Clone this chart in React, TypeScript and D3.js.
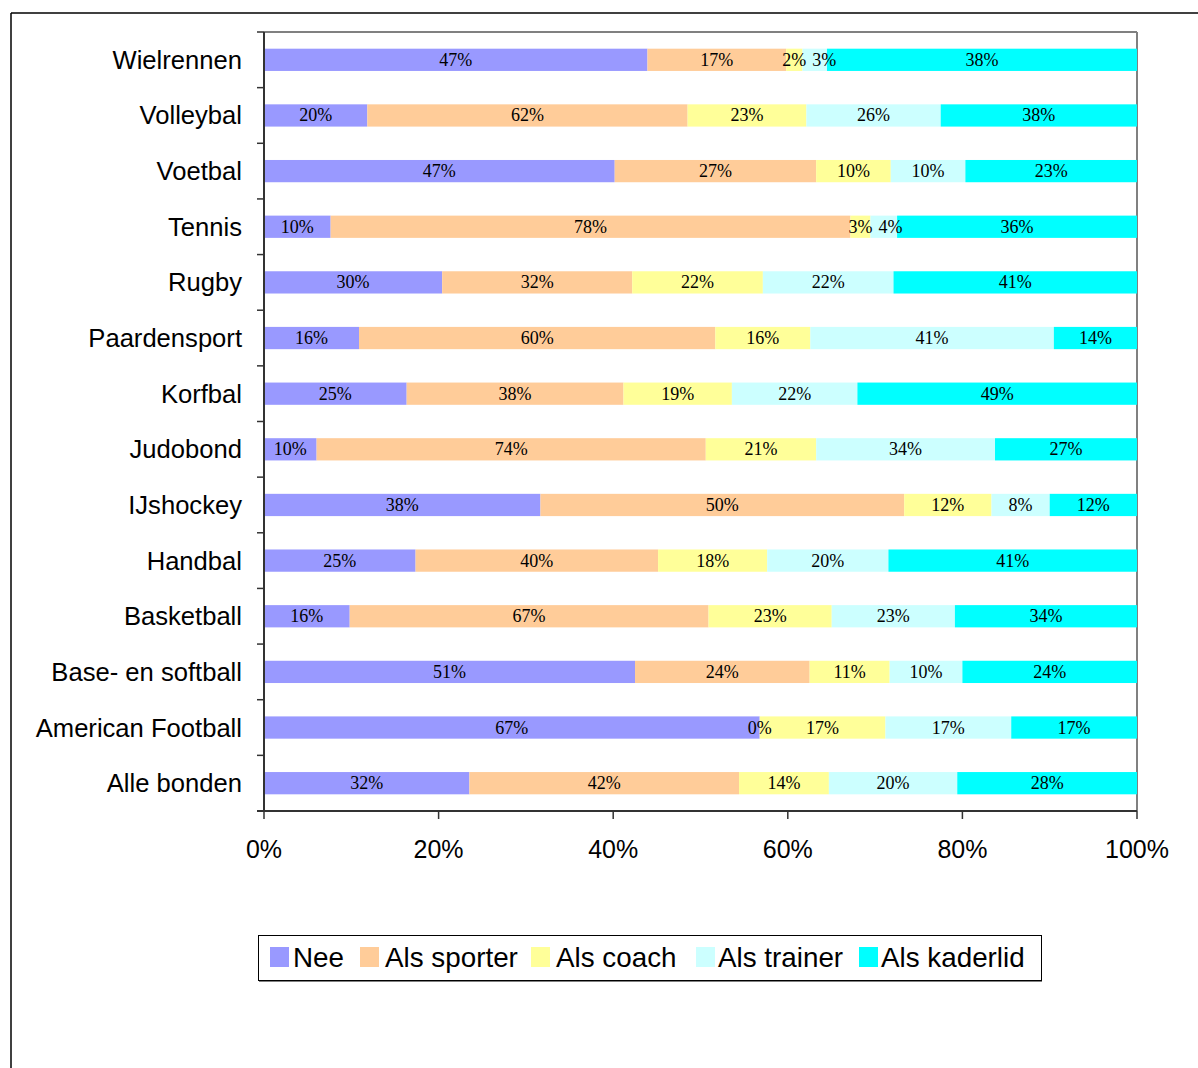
import * as d3 from 'd3';

const categories = [
  'Wielrennen',
  'Volleybal',
  'Voetbal',
  'Tennis',
  'Rugby',
  'Paardensport',
  'Korfbal',
  'Judobond',
  'IJshockey',
  'Handbal',
  'Basketball',
  'Base- en softball',
  'American Football',
  'Alle bonden',
];

const seriesNames = ['Nee', 'Als sporter', 'Als coach', 'Als trainer', 'Als kaderlid'];
const seriesColors = ['#9999FF', '#FFCC99', '#FFFF99', '#CCFFFF', '#00FFFF'];

const nee = [47, 20, 47, 10, 30, 16, 25, 10, 38, 25, 16, 51, 67, 32];
const alsSporter = [17, 62, 27, 78, 32, 60, 38, 74, 50, 40, 67, 24, 0, 42];
const alsCoach = [2, 23, 10, 3, 22, 16, 19, 21, 12, 18, 23, 11, 17, 14];
const alsTrainer = [3, 26, 10, 4, 22, 41, 22, 34, 8, 20, 23, 10, 17, 20];
const alsKaderlid = [38, 38, 23, 36, 41, 14, 49, 27, 12, 41, 34, 24, 17, 28];

const xTicks = [0, 0.2, 0.4, 0.6, 0.8, 1];

const seriesValues = [nee, alsSporter, alsCoach, alsTrainer, alsKaderlid];

export default function App() {
  const width = 1198;
  const height = 1068;
  const plot = { left: 264, right: 1137, top: 32, bottom: 811 };
  const labelSize = 18;

  const rows = categories.map((c, i) => {
    const row: any = { cat: c };
    seriesNames.forEach((s, j) => (row[s] = seriesValues[j][i]));
    return row;
  });

  const stacked = d3.stack().keys(seriesNames).offset(d3.stackOffsetExpand)(rows);

  const x = d3.scaleLinear().domain([0, 1]).range([plot.left, plot.right]);
  const y = d3
    .scaleBand()
    .domain(categories)
    .range([plot.top, plot.bottom])
    .paddingInner(0.6)
    .paddingOuter(0.3);

  const step = y.step();
  const boundaries = d3.range(categories.length + 1).map((i) => plot.top + i * step);

  // label positions, pushed right when they would overlap the previous one
  const labelX = categories.map((c, i) => {
    let prevRight = -Infinity;
    return stacked.map((layer, si) => {
      const d: any = layer[i];
      const digits = String(seriesValues[si][i]).length;
      const w = (digits * 0.5 + 0.833) * labelSize;
      let cx = (x(d[0]) + x(d[1])) / 2;
      if (cx - w / 2 < prevRight + 6) cx = prevRight + 6 + w / 2;
      prevRight = cx + w / 2;
      return cx;
    });
  });

  const legendItems = [
    { sx: 270, tx: 293 },
    { sx: 360, tx: 385 },
    { sx: 531, tx: 556 },
    { sx: 696, tx: 718 },
    { sx: 859, tx: 881 },
  ];

  const sans = '"Liberation Sans", Arial, sans-serif';
  const serif = '"Liberation Serif", "Times New Roman", serif';

  return (
    <svg
      width={width}
      height={height}
      style={{ position: 'absolute', left: 0, top: 0, background: '#fff' }}
    >
      <line x1={11} y1={13} x2={width} y2={13} stroke="#000" strokeWidth={1.5} />
      <line x1={11} y1={13} x2={11} y2={height} stroke="#000" strokeWidth={1.5} />

      {/* plot area frame */}
      <line x1={plot.left} y1={plot.top} x2={plot.right} y2={plot.top} stroke="#808080" strokeWidth={2} />
      <line x1={plot.right} y1={plot.top} x2={plot.right} y2={plot.bottom} stroke="#808080" strokeWidth={2} />

      {stacked.map((layer, si) => (
        <g key={layer.key} fill={seriesColors[si]}>
          {layer.map((d: any, i) => (
            <rect
              key={i}
              x={x(d[0])}
              y={y(categories[i])}
              width={Math.max(0, x(d[1]) - x(d[0]))}
              height={y.bandwidth()}
            />
          ))}
        </g>
      ))}

      {stacked.map((layer, si) => (
        <g key={'l' + layer.key} fontFamily={serif} fontSize={labelSize} fill="#000" textAnchor="middle">
          {layer.map((d: any, i) => (
            <text
              key={i}
              x={labelX[i][si]}
              y={(y(categories[i]) as number) + y.bandwidth() / 2}
              dominantBaseline="central"
            >
              {seriesValues[si][i]}%
            </text>
          ))}
        </g>
      ))}

      {/* axes */}
      <line x1={plot.left} y1={plot.top} x2={plot.left} y2={plot.bottom} stroke="#333" strokeWidth={2} />
      <line x1={plot.left - 7} y1={plot.bottom} x2={plot.right} y2={plot.bottom} stroke="#333" strokeWidth={2} />
      {boundaries.map((b, i) => (
        <line key={i} x1={plot.left - 7} y1={b} x2={plot.left} y2={b} stroke="#333" strokeWidth={1.5} />
      ))}
      {xTicks.map((t) => (
        <g key={t}>
          <line x1={x(t)} y1={plot.bottom} x2={x(t)} y2={plot.bottom + 8} stroke="#333" strokeWidth={1.5} />
          <text x={x(t)} y={858} textAnchor="middle" fontFamily={sans} fontSize={25} fill="#000">
            {d3.format('.0%')(t)}
          </text>
        </g>
      ))}

      {categories.map((c) => (
        <text
          key={c}
          x={242}
          y={(y(c) as number) + y.bandwidth() / 2}
          textAnchor="end"
          dominantBaseline="central"
          fontFamily={sans}
          fontSize={25.6}
          fill="#000"
        >
          {c}
        </text>
      ))}

      {/* legend */}
      <rect x={258.5} y={935.5} width={783} height={45} fill="#fff" stroke="#000" strokeWidth={1} />
      <line x1={259} y1={981.5} x2={1042} y2={981.5} stroke="#808080" strokeWidth={1} />
      {seriesNames.map((s, i) => (
        <g key={s}>
          <rect x={legendItems[i].sx} y={947} width={19} height={20} fill={seriesColors[i]} />
          <text
            x={legendItems[i].tx}
            y={957}
            dominantBaseline="central"
            fontFamily={sans}
            fontSize={27.8}
            fill="#000"
          >
            {s}
          </text>
        </g>
      ))}
    </svg>
  );
}
